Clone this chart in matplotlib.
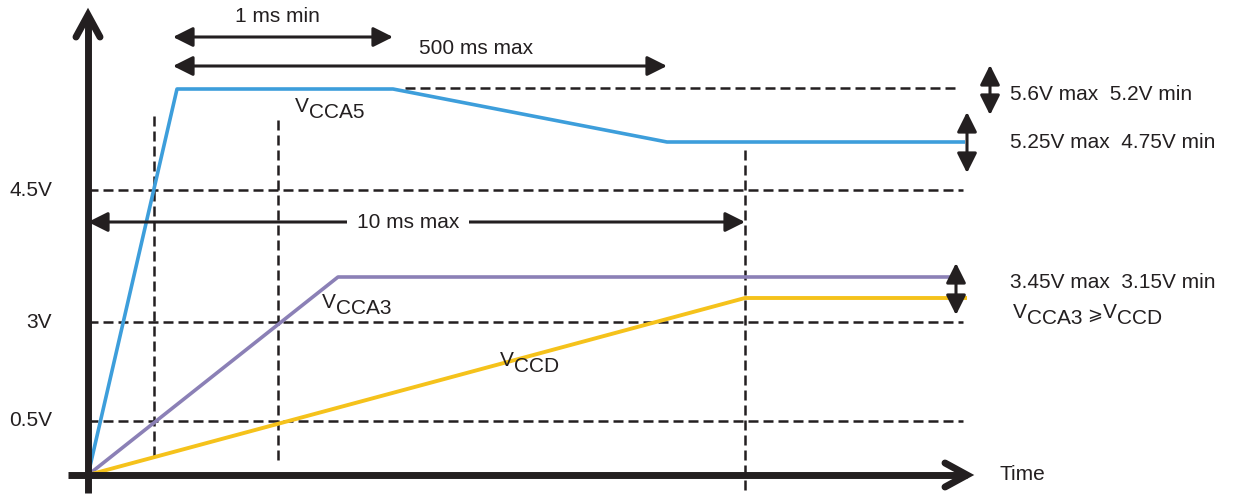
import matplotlib
matplotlib.use("Agg")
import matplotlib.pyplot as plt

plt.rcParams['font.family'] = ['Liberation Sans', 'DejaVu Sans']

# diagram units: 1 unit = 1 pixel, origin at the corner of the axes
# supply waveforms (time position, level position)
t_cca5 = [0, 89, 305, 579, 877]
v_cca5 = [0, 386, 386, 333, 333]
t_cca3 = [0, 250, 870]
v_cca3 = [0, 198, 198]
t_ccd = [0, 657, 879]
v_ccd = [0, 177, 177]

# reference levels on the left
level_pos = [54, 153, 285]
level_labels = ["0.5V", "3V", "4.5V"]
level_end = 875
top_limit = 387          # 5.6V max line
top_limit_start = 317

# vertical markers (x, bottom, top)
markers = [(66, 19, 362), (190, 15, 360), (657, -15, 328)]

# timing arrows (y, x0, x1, label)
timing = [(438, 85, 305, "1 ms min"),
          (409, 85, 579, "500 ms max"),
          (253, 0, 657, "10 ms max")]

# tolerance arrows (x, y0, y1, label, label y)
tolerance = [(902, 410, 360, "5.6V max  5.2V min", 381),
             (879, 363, 302, "5.25V max  4.75V min", 333),
             (868, 212, 160, "3.45V max  3.15V min", 192)]

BLACK = "#231f20"
BLUE = "#3d9edb"
PURPLE = "#8b80b6"
YELLOW = "#f5c21b"
FS = 15

fig = plt.figure(figsize=(12.38, 4.96), dpi=100)
ax = fig.add_axes([0, 0, 1, 1])
ax.set_xlim(-88, 1150)
ax.set_ylim(-21, 475)
ax.axis("off")

# dashed guides
dash = (0, (4, 2))
for y in level_pos:
    ax.plot([0, level_end], [y, y], color=BLACK, lw=1.8, ls=dash)
ax.plot([top_limit_start, 870], [top_limit, top_limit], color=BLACK, lw=1.8, ls=dash)
for x, y0, y1 in markers:
    ax.plot([x, x], [y0, y1], color=BLACK, lw=1.8, ls=dash)

for y, lab in zip(level_pos, level_labels):
    ax.text(-36, y, lab, fontsize=FS, ha="right", va="center", color=BLACK)

# waveforms
ax.plot(t_cca3, v_cca3, color=PURPLE, lw=2.6, solid_capstyle="butt")
ax.plot(t_ccd, v_ccd, color=YELLOW, lw=2.8, solid_capstyle="butt")
ax.plot(t_cca5, v_cca5, color=BLUE, lw=2.6, solid_capstyle="butt")

# axes with open arrow heads
ax.plot([0, 0], [-18, 460], color=BLACK, lw=5, solid_capstyle="butt")
ax.plot([-12, 0, 12], [438, 460, 438], color=BLACK, lw=5,
        solid_capstyle="round", solid_joinstyle="miter")
ax.plot([-20, 879], [0, 0], color=BLACK, lw=5, solid_capstyle="butt")
ax.plot([857, 879, 857], [12, 0, -12], color=BLACK, lw=5,
        solid_capstyle="round", solid_joinstyle="miter")
ax.text(912, 1, "Time", fontsize=FS, ha="left", va="center", color=BLACK)

arrow = dict(arrowstyle="<|-|>,head_length=0.6,head_width=0.3",
             mutation_scale=20, lw=2.2, color=BLACK,
             shrinkA=0, shrinkB=0)

for y, x0, x1, lab in timing:
    ax.annotate("", xy=(x1, y), xytext=(x0, y), arrowprops=arrow)
ax.text(189, 458, timing[0][3], fontsize=FS, ha="center", va="center", color=BLACK)
ax.text(388, 427, timing[1][3], fontsize=FS, ha="center", va="center", color=BLACK)
ax.text(320, 253, timing[2][3], fontsize=FS, ha="center", va="center", color=BLACK,
        bbox=dict(boxstyle="square,pad=0.45", fc="white", ec="none"))

for x, y0, y1, lab, ly in tolerance:
    ax.annotate("", xy=(x, y1), xytext=(x, y0), arrowprops=arrow)
    ax.text(922, ly, lab, fontsize=FS, ha="left", va="center", color=BLACK)


def vlabel(x, y, sub):
    ax.text(x, y, "V", fontsize=FS, ha="left", va="center", color=BLACK)
    ax.text(x + 14, y - 6, sub, fontsize=FS, ha="left", va="center", color=BLACK)


vlabel(207, 368, "CCA5")
vlabel(234, 172, "CCA3")
vlabel(412, 115, "CCD")

# V_CCA3 >= V_CCD note
vlabel(925, 163, "CCA3")
ax.text(999, 160, "\u2a7e", fontsize=FS - 2, ha="left", va="center", color=BLACK)
vlabel(1015, 163, "CCD")

fig.savefig("out.png", dpi=100)
